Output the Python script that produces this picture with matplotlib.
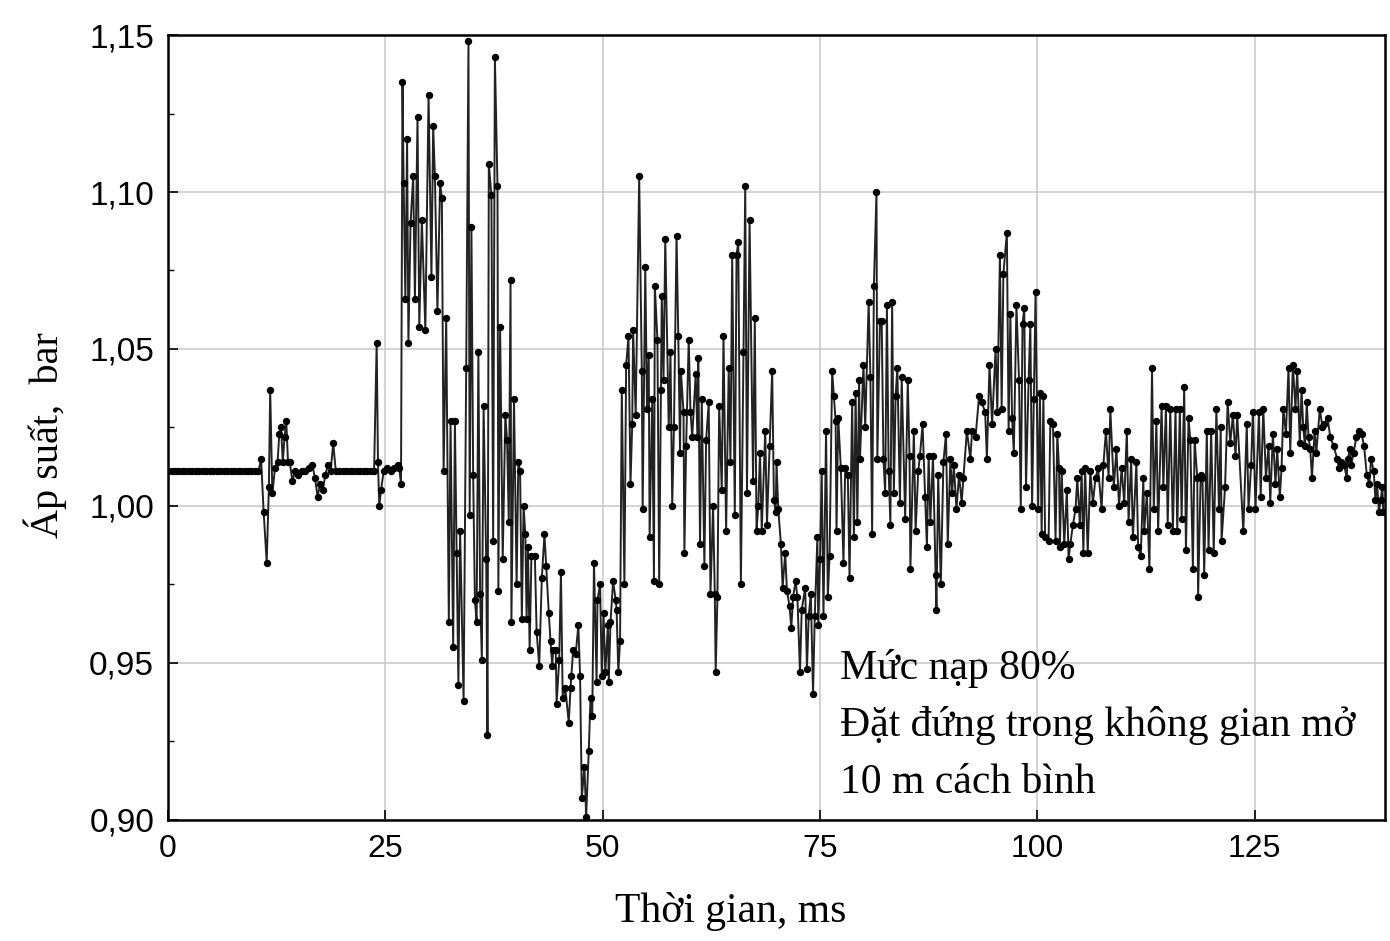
import matplotlib
matplotlib.use("Agg")
import matplotlib.pyplot as plt
from matplotlib.ticker import MultipleLocator, FuncFormatter

# (thoi gian ms, ap suat bar), segment by segment
quiet = [(0.0, 1.011), (0.4, 1.011), (0.8, 1.011), (1.2, 1.011), (1.6, 1.011), (2.0, 1.011),
         (2.4, 1.011), (2.8, 1.011), (3.2, 1.011), (3.6, 1.011), (4.0, 1.011), (4.4, 1.011),
         (4.8, 1.011), (5.2, 1.011), (5.6, 1.011), (6.0, 1.011), (6.4, 1.011), (6.8, 1.011),
         (7.2, 1.011), (7.6, 1.011), (8.0, 1.011), (8.4, 1.011), (8.8, 1.011), (9.2, 1.011),
         (9.6, 1.011), (10.0, 1.011), (10.4, 1.011), (10.7, 1.015), (11.0, 0.998), (11.35, 0.982),
         (11.6, 1.006), (11.75, 1.037), (12.0, 1.004), (12.3, 1.012), (12.6, 1.014), (12.8, 1.023),
         (13.0, 1.025), (13.2, 1.014), (13.4, 1.022), (13.6, 1.027), (13.8, 1.014), (14.0, 1.014),
         (14.3, 1.008), (14.6, 1.011), (15.0, 1.010), (15.4, 1.011), (15.8, 1.011), (16.2, 1.012),
         (16.6, 1.013), (16.9, 1.009), (17.2, 1.003), (17.5, 1.007), (17.8, 1.005), (18.1, 1.010),
         (18.4, 1.013), (18.7, 1.011), (19.0, 1.020), (19.3, 1.011), (19.7, 1.011), (20.1, 1.011),
         (20.5, 1.011), (20.9, 1.011), (21.3, 1.011), (21.7, 1.011), (22.1, 1.011), (22.5, 1.011),
         (22.9, 1.011), (23.3, 1.011), (23.7, 1.011), (24.0, 1.052), (24.15, 1.014), (24.3, 1.000),
         (24.5, 1.005), (24.8, 1.011), (25.2, 1.012), (25.6, 1.011), (26.0, 1.012), (26.4, 1.013),
         (26.6, 1.012), (26.8, 1.007)]

burst = [(26.97, 1.135), (27.1, 1.103), (27.3, 1.066), (27.5, 1.117), (27.65, 1.052), (27.9, 1.090),
         (28.2, 1.105), (28.4, 1.066), (28.7, 1.124), (28.9, 1.057), (29.2, 1.091), (29.6, 1.056),
         (29.97, 1.131), (30.3, 1.073), (30.5, 1.121), (30.7, 1.105), (30.99, 1.062), (31.3, 1.103),
         (31.5, 1.098), (31.7, 1.011), (32.0, 1.060), (32.3, 0.963), (32.5, 1.027), (32.8, 0.955),
         (33.0, 1.027), (33.2, 0.985), (33.4, 0.943), (33.6, 0.992), (34.0, 0.938), (34.3, 1.044),
         (34.56, 1.148), (34.7, 0.997), (34.9, 1.089), (35.1, 1.010), (35.3, 0.970), (35.5, 0.963),
         (35.7, 1.049), (35.9, 0.972), (36.1, 0.951), (36.3, 1.032), (36.6, 0.983), (36.75, 0.927),
         (36.9, 1.109), (37.2, 1.099), (37.4, 0.989), (37.6, 1.143), (37.9, 1.102), (38.0, 0.973),
         (38.2, 1.057), (38.5, 0.983), (38.8, 1.029), (39.0, 1.021), (39.2, 0.995), (39.4, 1.072),
         (39.5, 0.963), (39.8, 1.034), (40.1, 0.975), (40.3, 1.014), (40.5, 1.011), (40.7, 0.964)]

trough = [(40.9, 1.000), (41.1, 0.991), (41.25, 0.964), (41.4, 0.987), (41.6, 0.954), (41.8, 0.984),
          (42.2, 0.984), (42.4, 0.960), (42.7, 0.949), (43.0, 0.977), (43.3, 0.991), (43.5, 0.981),
          (43.8, 0.966), (44.0, 0.957), (44.2, 0.949), (44.3, 0.954), (44.6, 0.954), (44.7, 0.937),
          (45.0, 0.951), (45.2, 0.979), (45.4, 0.939), (45.7, 0.942), (46.1, 0.931), (46.3, 0.942),
          (46.4, 0.946), (46.6, 0.954), (46.9, 0.953), (47.2, 0.962), (47.4, 0.946), (47.6, 0.907),
          (47.9, 0.917), (48.1, 0.901), (48.4, 0.922), (48.6, 0.939), (48.8, 0.933), (49.0, 0.982),
          (49.3, 0.944), (49.4, 0.970), (49.7, 0.975), (49.9, 0.946), (50.1, 0.966), (50.3, 0.947),
          (50.6, 0.962), (50.7, 0.944), (50.9, 0.963), (51.2, 0.976), (51.5, 0.970), (51.6, 0.967),
          (51.8, 0.947)]

recovery = [(52.0, 0.957), (52.2, 1.037), (52.5, 0.975), (52.7, 1.045), (52.97, 1.054), (53.2, 1.007),
            (53.4, 1.026), (53.5, 1.056), (53.8, 1.029), (54.2, 1.105), (54.5, 1.043), (54.6, 0.999),
            (54.9, 1.076), (55.1, 1.031), (55.3, 1.048), (55.4, 0.990), (55.7, 1.034), (55.9, 0.976),
            (56.0, 1.070), (56.3, 1.053), (56.5, 0.975), (56.7, 1.037), (56.8, 1.067), (57.0, 1.040),
            (57.2, 1.085), (57.6, 1.025), (57.8, 1.049), (58.0, 1.000), (58.2, 1.025), (58.5, 1.086),
            (58.7, 1.054), (58.9, 1.017), (59.0, 1.043), (59.3, 1.030), (59.4, 0.985), (59.6, 1.019),
            (59.9, 1.053), (60.1, 1.030), (60.3, 1.022), (60.7, 1.042), (60.9, 1.022), (61.0, 1.047),
            (61.2, 0.988), (61.4, 1.034), (61.7, 0.981), (61.9, 1.021), (62.2, 1.033), (62.4, 0.972),
            (62.7, 1.000), (62.9, 0.972), (63.0, 0.947), (63.2, 0.971), (63.4, 1.032), (63.7, 1.005),
            (63.9, 1.054), (64.2, 0.992), (64.5, 1.044), (64.7, 1.014), (64.9, 1.080), (65.2, 0.997),
            (65.4, 1.080), (65.6, 1.084), (65.9, 0.975), (66.2, 1.049), (66.4, 1.102), (66.6, 1.004),
            (66.9, 1.091), (67.3, 1.008), (67.5, 1.060), (67.7, 0.992)]

valley = [(67.9, 1.000), (68.1, 1.017), (68.3, 0.992), (68.7, 1.024), (68.9, 0.994), (69.2, 1.019),
          (69.5, 1.043), (69.7, 1.002), (69.9, 0.998), (70.0, 1.014), (70.2, 0.999), (70.5, 0.988),
          (70.7, 0.974), (71.0, 0.985), (71.2, 0.973), (71.5, 0.968), (71.7, 0.961), (71.9, 0.971),
          (72.2, 0.976), (72.4, 0.971), (72.7, 0.947), (72.9, 0.967), (73.3, 0.974), (73.5, 0.948),
          (73.7, 0.965), (73.95, 0.972), (74.2, 0.940), (74.4, 0.965), (74.7, 0.990), (74.8, 0.962),
          (75.0, 0.983), (75.2, 1.011), (75.4, 0.965), (75.7, 1.024), (75.9, 0.971), (76.1, 0.984),
          (76.4, 1.043), (76.6, 1.035), (76.8, 1.027), (76.9, 0.992), (77.1, 1.028), (77.4, 1.012),
          (77.7, 0.982), (77.9, 1.012), (78.2, 1.010), (78.4, 0.977), (78.7, 1.033), (78.9, 0.990),
          (79.1, 1.036), (79.3, 0.995), (79.5, 1.040), (79.6, 1.015)]

peak2 = [(80.0, 1.045), (80.2, 1.025), (80.6, 1.065), (80.8, 1.041), (81.0, 0.991), (81.2, 1.070),
         (81.5, 1.100), (81.6, 1.015), (81.9, 1.059), (82.1, 1.059), (82.3, 1.015), (82.5, 1.004),
         (82.7, 1.064), (82.9, 1.011), (83.1, 0.994), (83.3, 1.065), (83.5, 1.004), (83.7, 1.035),
         (83.9, 1.044), (84.2, 1.001), (84.4, 1.041), (84.8, 0.996), (85.1, 1.040), (85.3, 1.016),
         (85.4, 0.980), (85.8, 1.024), (86.0, 0.992), (86.3, 1.011), (86.5, 1.016), (86.8, 1.026),
         (87.1, 1.003), (87.3, 0.987), (87.5, 1.016), (87.7, 0.995), (88.0, 1.016), (88.3, 0.978),
         (88.4, 0.967), (88.6, 1.010), (88.9, 0.975), (89.2, 1.014), (89.5, 1.023), (89.7, 0.988),
         (90.0, 1.015), (90.2, 1.004), (90.4, 1.013), (90.7, 0.999), (91.0, 1.010), (91.3, 1.001)]

peak3 = [(91.5, 1.009), (91.9, 1.024), (92.3, 1.015), (92.5, 1.024), (92.9, 1.022), (93.3, 1.035),
         (93.6, 1.033), (94.0, 1.030), (94.2, 1.015), (94.5, 1.045), (94.8, 1.026), (95.2, 1.050),
         (95.4, 1.030), (95.7, 1.080), (95.9, 1.031), (96.1, 1.074), (96.5, 1.087), (96.7, 1.024),
         (96.9, 1.061), (97.1, 1.028), (97.3, 1.017), (97.6, 1.064), (97.9, 1.040), (98.1, 0.999),
         (98.3, 1.058), (98.5, 1.063), (98.7, 1.006), (99.0, 1.040), (99.2, 1.058), (99.4, 1.000),
         (99.6, 1.034), (99.8, 1.068), (100.1, 0.999), (100.3, 1.036), (100.5, 0.991), (100.7, 1.035),
         (100.9, 0.990), (101.3, 0.989), (101.5, 1.027), (101.8, 1.026), (102.1, 0.989), (102.3, 1.023),
         (102.5, 1.012), (102.6, 0.987), (102.8, 1.011), (103.1, 0.988), (103.4, 1.005), (103.6, 0.983),
         (103.8, 0.988), (104.1, 0.994), (104.4, 0.999), (104.6, 1.009), (104.9, 0.994), (105.1, 1.011),
         (105.3, 0.985), (105.5, 1.012), (105.8, 0.985), (106.1, 1.011), (106.4, 1.001), (106.7, 1.009),
         (107.0, 1.012)]

tail1 = [(107.4, 0.999), (107.6, 1.013), (107.9, 1.024), (108.2, 1.009), (108.4, 1.031), (108.8, 1.006),
         (109.1, 1.018), (109.4, 1.000), (109.7, 1.012), (110.0, 1.001), (110.3, 1.024), (110.5, 0.995),
         (110.8, 1.015), (111.0, 0.990), (111.4, 1.014), (111.6, 0.987), (111.9, 0.984), (112.2, 1.009),
         (112.3, 0.992), (112.6, 1.004), (112.9, 0.980), (113.2, 1.044), (113.4, 0.999), (113.7, 1.027),
         (113.9, 0.992), (114.3, 1.032), (114.5, 1.006), (114.8, 1.032), (115.0, 0.994), (115.3, 1.031),
         (115.6, 0.992), (115.9, 1.031), (116.1, 0.992), (116.4, 1.031), (116.6, 0.996), (116.9, 1.038),
         (117.1, 0.986), (117.4, 1.028), (117.6, 1.021), (117.9, 0.980), (118.1, 1.021), (118.4, 1.009),
         (118.5, 0.971), (118.8, 1.010), (119.0, 1.009), (119.2, 0.978), (119.5, 1.024), (119.7, 0.986),
         (120.0, 1.024), (120.3, 0.985), (120.6, 1.031), (120.9, 0.999), (121.1, 1.025), (121.2, 0.989),
         (121.6, 1.006), (121.9, 1.033), (122.2, 1.020), (122.5, 1.029), (122.8, 1.016), (123.0, 1.029)]

tail2 = [(123.7, 0.992), (124.1, 1.026), (124.3, 0.999), (124.6, 1.013), (124.8, 1.030), (125.1, 0.999),
         (125.5, 1.030), (125.7, 1.003), (126.0, 1.031), (126.3, 1.009), (126.6, 1.019), (126.8, 1.001),
         (127.1, 1.023), (127.4, 1.007), (127.6, 1.018), (127.9, 1.003), (128.1, 1.012), (128.3, 1.031),
         (128.6, 1.023), (128.9, 1.044), (129.1, 1.017), (129.4, 1.045), (129.7, 1.031), (129.9, 1.043),
         (130.2, 1.020), (130.4, 1.037), (130.6, 1.025), (130.8, 1.019), (131.0, 1.033), (131.2, 1.022),
         (131.4, 1.018), (131.6, 1.009), (131.9, 1.024), (132.1, 1.017), (132.5, 1.031), (132.8, 1.025),
         (133.0, 1.026), (133.4, 1.028), (133.7, 1.022), (134.1, 1.019), (134.5, 1.015), (134.7, 1.012),
         (134.9, 1.014), (135.3, 1.013), (135.6, 1.009), (135.7, 1.015), (136.0, 1.018), (136.1, 1.013),
         (136.4, 1.017), (136.7, 1.022), (137.0, 1.024), (137.3, 1.023), (137.6, 1.019), (137.9, 1.010),
         (138.2, 1.007), (138.4, 1.015), (138.7, 1.011), (138.9, 1.002), (139.1, 1.007), (139.3, 0.998),
         (139.5, 1.002), (139.7, 1.006), (139.8, 0.998)]

segments = [quiet, burst, trough, recovery, valley, peak2, peak3, tail1, tail2]

x_ticks = [0, 25, 50, 75, 100, 125]
y_ticks = [0.90, 0.95, 1.00, 1.05, 1.10, 1.15]
note_lines = ["Mức nạp 80%", "Đặt đứng trong không gian mở", "10 m cách bình"]

t = [p[0] for seg in segments for p in seg]
v = [p[1] for seg in segments for p in seg]

serif = ["Liberation Serif", "DejaVu Serif"]
sans = ["Liberation Sans", "DejaVu Sans"]

fig = plt.figure(figsize=(13.9, 9.41), dpi=100)
ax = fig.add_axes([0.1209, 0.1286, 0.8755, 0.8342])

ax.plot(t, v, color="#222222", lw=1.4, marker="o", ms=4.3,
        mfc="black", mec="black", zorder=3, clip_on=True)

ax.set_xlim(0, 140)
ax.set_ylim(0.90, 1.15)
ax.set_xticks(x_ticks)
ax.set_yticks(y_ticks)
ax.yaxis.set_minor_locator(MultipleLocator(0.025))
ax.yaxis.set_major_formatter(FuncFormatter(lambda val, pos: f"{val:.2f}".replace(".", ",")))
ax.grid(True, which="major", color="#c8c8c8", lw=1.1, zorder=0)

ax.tick_params(which="both", direction="in", top=False, right=False)
ax.tick_params(which="major", length=7, width=1.2, pad=10)
ax.tick_params(which="minor", length=4, width=1.0)
for lab in ax.get_yticklabels():
    lab.set_fontfamily(sans)
    lab.set_fontsize(24)
for lab in ax.get_xticklabels():
    lab.set_fontfamily(sans)
    lab.set_fontsize(23)

for sp in ax.spines.values():
    sp.set_linewidth(1.8)
    sp.set_color("black")

ax.set_xlabel("Thời gian, ms", fontfamily=serif, fontsize=30, va="center")
ax.xaxis.set_label_coords(0.4626, -0.117)
ax.set_ylabel("Áp suất,  bar", fontfamily=serif, fontsize=29, va="center")
ax.yaxis.set_label_coords(-0.101, 0.49)

for i, line in enumerate(note_lines):
    ax.text(77.3, 0.9484 - i * 0.0183, line, fontfamily=serif, fontsize=30,
            va="center", ha="left", zorder=4)

fig.savefig("out.png", dpi=100)
